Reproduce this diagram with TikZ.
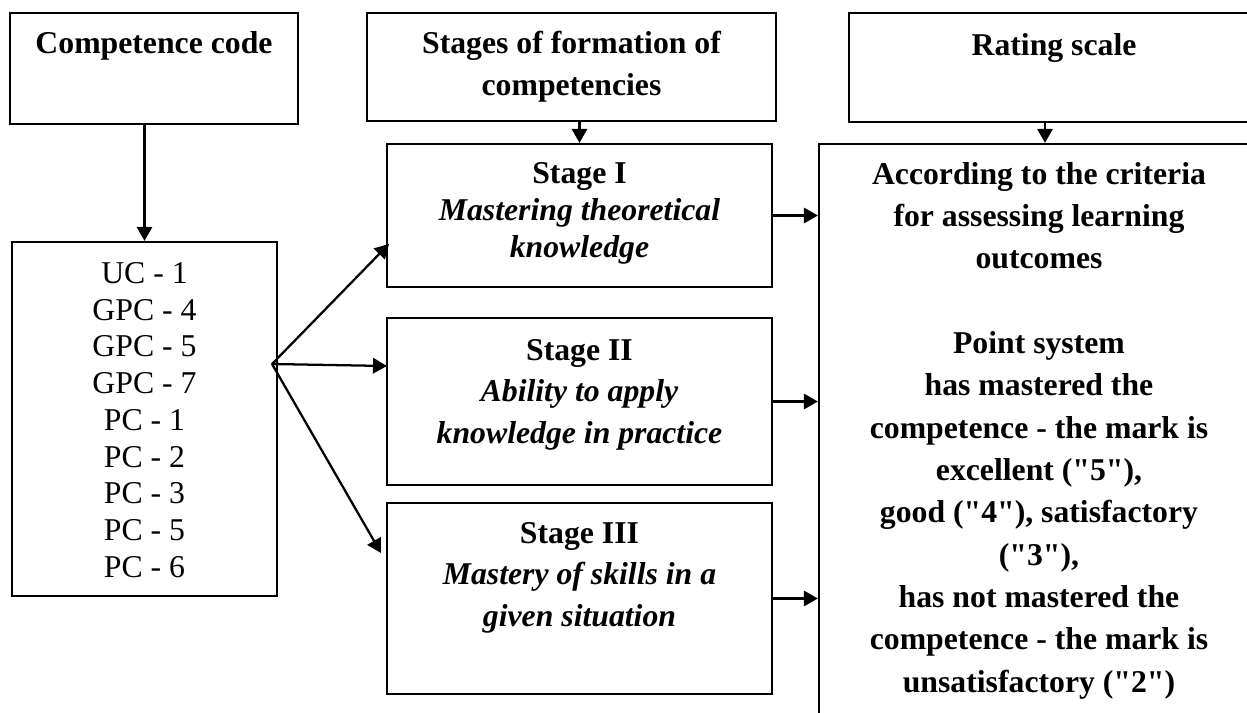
\documentclass[tikz,border=0pt]{standalone}
\usepackage{fontspec}
\setmainfont{Liberation Serif}[Ligatures=TeXOff]
\usetikzlibrary{arrows.meta,fit}
\newcommand{\fst}{\rule{0pt}{20pt}}
\begin{document}
\begin{tikzpicture}[x=0.75pt,y=-0.75pt,
  box/.style={draw, line width=1.7pt, inner sep=0pt},
  arr/.style={line width=1.7pt, -{Triangle[length=10.5pt,width=11.5pt]}},
  hd/.style={font={\fontsize{23.8pt}{31.5pt}\selectfont\bfseries}, align=center, inner sep=0pt, anchor=north},
  hdi/.style={font={\fontsize{23.8pt}{27.56pt}\selectfont}, align=center, inner sep=0pt, anchor=north},
  st/.style={font={\fontsize{23.8pt}{31.3pt}\selectfont}, align=center, inner sep=0pt, anchor=north},
  st1/.style={font={\fontsize{23.8pt}{27.75pt}\selectfont}, align=center, inner sep=0pt, anchor=north},
  rt/.style={font={\fontsize{23.8pt}{31.75pt}\selectfont\bfseries}, align=center, inner sep=0pt, anchor=north}]
\useasboundingbox (0,0) rectangle (1247,713);
\clip (0,0) rectangle (1247,713);
% boxes
\node[box, fit={(10,13) (298,124)}] (A) {};
\node[box, fit={(12,242) (277,596)}] (C) {};
\node[box, fit={(367,13) (776,121)}] (B) {};
\node[box, fit={(387,144) (772,287)}] (S1) {};
\node[box, fit={(387,318) (772,485)}] (S2) {};
\node[box, fit={(387,503) (772,694)}] (S3) {};
\node[box, fit={(849,13) (1259,122)}] (Rt) {};
\node[box, fit={(819,144) (1259,780)}] (R) {};
% texts
\node[hd] (tA) at (154,26.33) {\fst Competence code};
\node[hdi] (tC) at (144.5,256.33) {\fst UC - 1\\GPC - 4\\GPC - 5\\GPC - 7\\PC - 1\\PC - 2\\PC - 3\\PC - 5\\PC - 6};
\node[hd] (tB) at (571.5,26.33) {\fst Stages of formation of\\competencies};
\node[st1] (tS1) at (579.5,156.33) {\fst\textbf{Stage I}\\\textbf{\itshape Mastering theoretical}\\\textbf{\itshape knowledge}};
\node[st] (tS2) at (579.5,333.33) {\fst\textbf{Stage II}\\\textbf{\itshape Ability to apply}\\\textbf{\itshape knowledge in practice}};
\node[st] (tS3) at (579.5,516.33) {\fst\textbf{Stage III}\\\textbf{\itshape Mastery of skills in a}\\\textbf{\itshape given situation}};
\node[hd] (tRt) at (1054,28.33) {\fst Rating scale};
\node[rt] (tR) at (1039,157.33) {\fst According to the criteria\\for assessing learning\\outcomes\\[31.75pt]Point system\\has mastered the\\competence - the mark is\\excellent ("5"),\\good ("4"), satisfactory\\("3"),\\has not mastered the\\competence - the mark is\\unsatisfactory ("2")};
% connectors
\draw[arr] (A.south -| C.north) -- (C.north);
\draw[arr] (B.south -| S1.north) -- (S1.north);
\coordinate (rx) at (1045,0);
\draw[arr] (Rt.south -| rx) -- (R.north -| rx);
\draw[arr] (S1.east) -- (S1.east -| R.west);
\draw[arr] (S2.east) -- (S2.east -| R.west);
\draw[arr] (S3.east) -- (S3.east -| R.west);
\coordinate (fan) at (272,364);
\coordinate (e1) at (389,244);
\coordinate (e2) at (387,366);
\coordinate (e3) at (381,553);
\draw[arr] (fan) -- (e1);
\draw[arr] (fan) -- (e2);
\draw[arr] (fan) -- (e3);
\end{tikzpicture}
\end{document}
